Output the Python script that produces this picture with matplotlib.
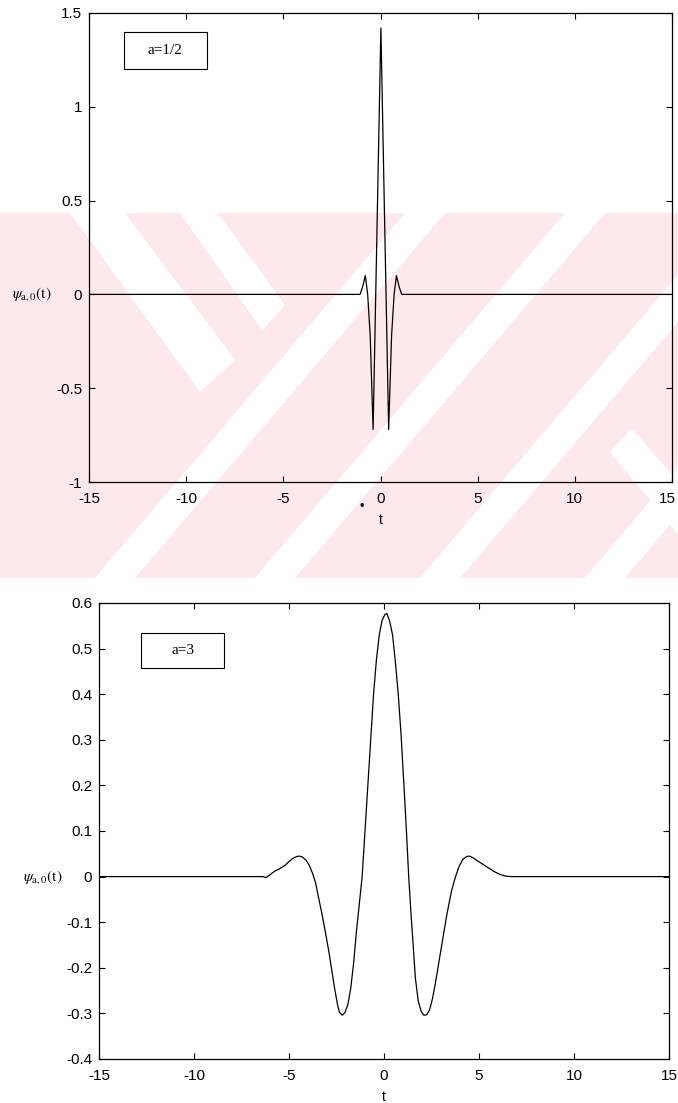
import matplotlib.pyplot as plt
from matplotlib.patches import Polygon, Rectangle
from matplotlib.transforms import ScaledTranslation

plt.rcParams['font.family'] = ['Liberation Sans', 'DejaVu Sans']
plt.rcParams['axes.unicode_minus'] = False
plt.rcParams['mathtext.fontset'] = 'stix'

W, H = 678, 1103

# psi_{a,0}(t) for a = 1/2
t_half = [-15, -1.05, -0.92, -0.78, -0.66, -0.53, -0.38, 0.02,
          0.42, 0.57, 0.70, 0.82, 0.96, 1.09, 15]
psi_half = [0, 0, 0.04, 0.10, 0.0, -0.22, -0.72, 1.42,
            -0.72, -0.22, 0.0, 0.10, 0.04, 0, 0]

# psi_{a,0}(t) for a = 3
t_three = [-15, -6.4, -6.2, -6.0, -5.75, -5.5, -5.2, -5.0, -4.8, -4.6,
           -4.45, -4.3, -4.1, -3.9, -3.75, -3.6, -3.45, -3.25, -3.05, -2.9,
           -2.75, -2.6, -2.45, -2.35, -2.2, -2.05, -1.9, -1.75, -1.6, -1.45,
           -1.3, -1.15, -1.0, -0.85, -0.7, -0.55, -0.4, -0.25, -0.1, 0.05,
           0.15, 0.3, 0.45, 0.6, 0.75, 0.9, 1.05, 1.18, 1.3, 1.42,
           1.55, 1.65, 1.8, 1.95, 2.1, 2.25, 2.4, 2.55, 2.7, 2.9,
           3.1, 3.3, 3.55, 3.75, 3.95, 4.15, 4.35, 4.5, 4.7, 4.9,
           5.2, 5.5, 5.8, 6.1, 6.4, 6.7, 15]
psi_three = [0, 0, -0.002, 0.004, 0.012, 0.017, 0.025, 0.033, 0.040, 0.044,
             0.045, 0.043, 0.036, 0.022, 0.006, -0.014, -0.045, -0.085, -0.13, -0.165,
             -0.205, -0.245, -0.280, -0.297, -0.304, -0.298, -0.280, -0.245, -0.19, -0.12,
             -0.06, 0.0, 0.10, 0.20, 0.30, 0.40, 0.475, 0.53, 0.562, 0.575,
             0.577, 0.56, 0.53, 0.47, 0.40, 0.31, 0.20, 0.10, 0.0, -0.08,
             -0.16, -0.222, -0.272, -0.295, -0.304, -0.303, -0.292, -0.268, -0.235, -0.185,
             -0.135, -0.085, -0.032, -0.002, 0.022, 0.038, 0.044, 0.045, 0.041, 0.035,
             0.027, 0.019, 0.011, 0.005, 0.001, 0, 0]

x_ticks = [-15, -10, -5, 0, 5, 10, 15]
x_labels = ['-15', '-10', '-5', '0', '5', '10', '15']
y_ticks_top = [-1, -0.5, 0, 0.5, 1, 1.5]
y_labels_top = ['-1', '-0.5', '0', '0.5', '1', '1.5']
y_ticks_bot = [-0.4, -0.3, -0.2, -0.1, 0, 0.1, 0.2, 0.3, 0.4, 0.5, 0.6]
y_labels_bot = ['-0.4', '-0.3', '-0.2', '-0.1', '0', '0.1', '0.2', '0.3', '0.4', '0.5', '0.6']


def px_rect(x0, y0, x1, y1):
    return [x0 / W, 1 - y1 / H, (x1 - x0) / W, (y1 - y0) / H]


def px_poly(pts):
    return [(x / W, 1 - y / H) for x, y in pts]


fig = plt.figure(figsize=(W / 100, H / 100), dpi=100)

# pink striped watermark behind the upper plot
pink = '#fde8ec'
fig.patches.append(Polygon(px_poly([(0, 213), (678, 213), (678, 578), (0, 578)]),
                           closed=True, transform=fig.transFigure, fc=pink, ec='none', zorder=-10))
stripes = [
    [(70, 213), (125, 213), (235, 360), (200, 392)],
    [(180, 213), (218, 213), (285, 305), (262, 330)],
    [(95, 578), (135, 578), (445, 213), (405, 213)],
    [(255, 578), (295, 578), (605, 213), (565, 213)],
    [(420, 578), (460, 578), (678, 322), (678, 275)],
    [(585, 578), (625, 578), (678, 515), (678, 468)],
    [(610, 452), (632, 428), (678, 482), (678, 534)],
]
for s in stripes:
    fig.patches.append(Polygon(px_poly(s), closed=True, transform=fig.transFigure,
                               fc='white', ec='none', zorder=-9))

ax1 = fig.add_axes(px_rect(89, 13, 672, 482))
ax2 = fig.add_axes(px_rect(99, 603, 669, 1059))

ax1.plot(t_half, psi_half, color='black', lw=0.9)
ax2.plot(t_three, psi_three, color='black', lw=0.9)

panels = [
    (ax1, y_ticks_top, y_labels_top, (-1, 1.5), 'a=1/2', (0.060, 0.881, 0.142, 0.078)),
    (ax2, y_ticks_bot, y_labels_bot, (-0.4, 0.6), 'a=3', (0.074, 0.857, 0.145, 0.077)),
]
for ax, yt, yl, ylim, tag, box in panels:
    ax.set_facecolor('none')
    ax.set_xlim(-15, 15)
    ax.set_ylim(*ylim)
    ax.set_xticks(x_ticks)
    ax.set_xticklabels(x_labels)
    ax.set_yticks(yt)
    ax.set_yticklabels(yl)
    ax.tick_params(direction='in', length=4, width=0.8, top=True, right=True,
                   labelsize=11, pad=5)
    ax.tick_params(axis='x', pad=7)
    for sp in ax.spines.values():
        sp.set_linewidth(0.9)
    ax.set_xlabel('t', fontsize=10, labelpad=5)
    ax.set_ylabel(r'$\psi_{\mathrm{a,0}}\mathrm{(t)}$', rotation=0, fontsize=11,
                  ha='center', va='center')
    ax.yaxis.set_label_coords(-0.098, 0.4)
    bx, by, bw, bh = box
    ax.add_patch(Rectangle((bx, by), bw, bh, transform=ax.transAxes,
                           fill=False, ec='black', lw=0.8))
    ax.text(bx + bw / 2, by + bh / 2, tag, transform=ax.transAxes, ha='center',
            va='center', fontsize=11, family=['Liberation Serif', 'DejaVu Serif'])

# nudge the last label of the upper axis so it stays on the page
last = ax1.get_xticklabels()[-1]
last.set_transform(last.get_transform() + ScaledTranslation(-0.05, 0, fig.dpi_scale_trans))

fig.text(362 / W, 1 - 507 / H, '\u2022', fontsize=9, ha='center', va='center')

fig.savefig('out.png', dpi=100)
